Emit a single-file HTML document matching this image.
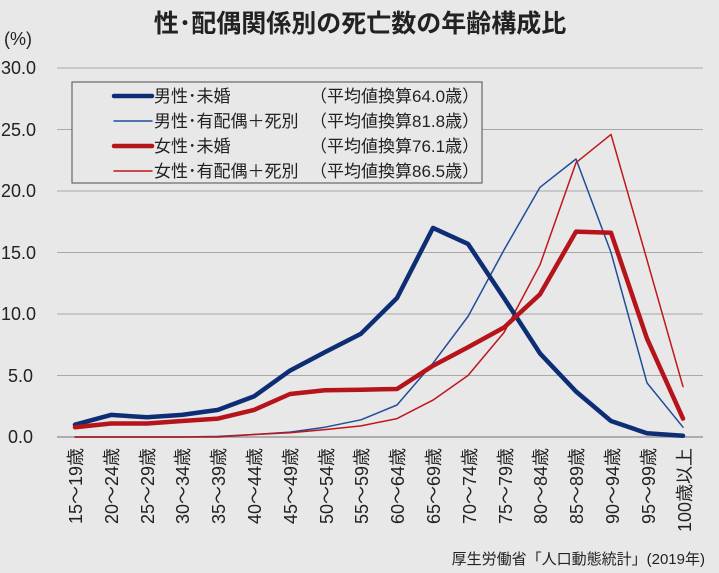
<!DOCTYPE html>
<html><head><meta charset="utf-8"><style>
body{margin:0;background:#e8e8e8;}
svg{display:block;font-family:"Liberation Sans","Noto Sans CJK JP",sans-serif;}
</style></head><body>
<svg width="719" height="573" viewBox="0 0 719 573" xmlns="http://www.w3.org/2000/svg">
<rect width="719" height="573" fill="#e8e8e8"/>
<text x="360" y="32" font-size="25" font-weight="bold" text-anchor="middle" fill="#222">性･配偶関係別の死亡数の年齢構成比</text>
<text x="4" y="45" font-size="18" fill="#222">(%)</text>
<g stroke="#a8a8a8" stroke-width="1">
<line x1="57" y1="68" x2="703" y2="68"/><line x1="57" y1="129.5" x2="703" y2="129.5"/>
<line x1="57" y1="191" x2="703" y2="191"/><line x1="57" y1="252.5" x2="703" y2="252.5"/>
<line x1="57" y1="314" x2="703" y2="314"/><line x1="57" y1="375.5" x2="703" y2="375.5"/>
<line x1="57" y1="437" x2="703" y2="437" stroke="#999" stroke-width="1.5"/>
</g>
<g font-size="18" fill="#222">
<text x="1" y="74">30.0</text><text x="1" y="136">25.0</text><text x="1" y="197">20.0</text>
<text x="1" y="259">15.0</text><text x="1" y="320">10.0</text><text x="8" y="382">5.0</text><text x="8" y="443">0.0</text>
</g>
<g font-size="18" fill="#222">
<text transform="translate(82,448) rotate(-90)" text-anchor="end">15～19歳</text>
<text transform="translate(118,448) rotate(-90)" text-anchor="end">20～24歳</text>
<text transform="translate(154,448) rotate(-90)" text-anchor="end">25～29歳</text>
<text transform="translate(189,448) rotate(-90)" text-anchor="end">30～34歳</text>
<text transform="translate(225,448) rotate(-90)" text-anchor="end">35～39歳</text>
<text transform="translate(261,448) rotate(-90)" text-anchor="end">40～44歳</text>
<text transform="translate(297,448) rotate(-90)" text-anchor="end">45～49歳</text>
<text transform="translate(333,448) rotate(-90)" text-anchor="end">50～54歳</text>
<text transform="translate(368,448) rotate(-90)" text-anchor="end">55～59歳</text>
<text transform="translate(404,448) rotate(-90)" text-anchor="end">60～64歳</text>
<text transform="translate(440,448) rotate(-90)" text-anchor="end">65～69歳</text>
<text transform="translate(476,448) rotate(-90)" text-anchor="end">70～74歳</text>
<text transform="translate(512,448) rotate(-90)" text-anchor="end">75～79歳</text>
<text transform="translate(547,448) rotate(-90)" text-anchor="end">80～84歳</text>
<text transform="translate(583,448) rotate(-90)" text-anchor="end">85～89歳</text>
<text transform="translate(619,448) rotate(-90)" text-anchor="end">90～94歳</text>
<text transform="translate(655,448) rotate(-90)" text-anchor="end">95～99歳</text>
<text transform="translate(691,448) rotate(-90)" text-anchor="end">100歳以上</text>
</g>
<text x="705" y="564" font-size="15" text-anchor="end" fill="#222">厚生労働省「人口動態統計」(2019年)</text>
<g fill="none" stroke-linejoin="round" stroke-linecap="round">
<polyline stroke="#1f4e9a" stroke-width="1.5" points="75,437 111,437 147,437 182,437 218,436.4 254,434.5 290,432.1 325,427.2 361,419.8 397,405 433,363.2 468,316.5 504,250 540,187.3 576,159 611,252.5 647,382.9 683,427.2"/>
<polyline stroke="#c0161b" stroke-width="1.5" points="75,437 111,437 147,437 182,437 218,437 254,434.5 290,432.7 325,429.6 361,425.9 397,418.6 433,400.1 468,375.5 504,332.5 540,264.8 576,162.7 611,134.4 647,259.9 683,386.6"/>
<polyline stroke="#0d2d74" stroke-width="4.5" points="75,424.7 111,414.9 147,417.3 182,414.9 218,409.9 254,396.4 290,370.6 325,352.1 361,333.7 397,298 433,227.9 468,243.9 504,298 540,353.4 576,391.5 611,421 647,433.3 683,435.8"/>
<polyline stroke="#b4141a" stroke-width="4.5" points="75,427.2 111,423.5 147,423.5 182,421 218,418.6 254,409.9 290,394 325,390.3 361,389.7 397,389 433,365.7 468,347.2 504,327.5 540,294.3 576,231.6 611,232.8 647,338.6 683,418.6"/>
</g>
<rect x="72" y="82" width="410" height="101" fill="#e8e8e8" stroke="#666" stroke-width="1.2"/>
<g stroke-linecap="round">
<line x1="114" y1="96" x2="152" y2="96" stroke="#0d2d74" stroke-width="4.5"/>
<line x1="114" y1="121" x2="152" y2="121" stroke="#1f4e9a" stroke-width="1.5"/>
<line x1="114" y1="146" x2="152" y2="146" stroke="#b4141a" stroke-width="4.5"/>
<line x1="114" y1="171" x2="152" y2="171" stroke="#c0161b" stroke-width="1.5"/>
</g>
<g font-size="17" fill="#222">
<text x="154" y="102">男性･未婚</text><text x="310" y="102">（平均値換算64.0歳）</text>
<text x="154" y="127">男性･有配偶＋死別</text><text x="310" y="127">（平均値換算81.8歳）</text>
<text x="154" y="152">女性･未婚</text><text x="310" y="152">（平均値換算76.1歳）</text>
<text x="154" y="177">女性･有配偶＋死別</text><text x="310" y="177">（平均値換算86.5歳）</text>
</g>
</svg>
</body></html>
